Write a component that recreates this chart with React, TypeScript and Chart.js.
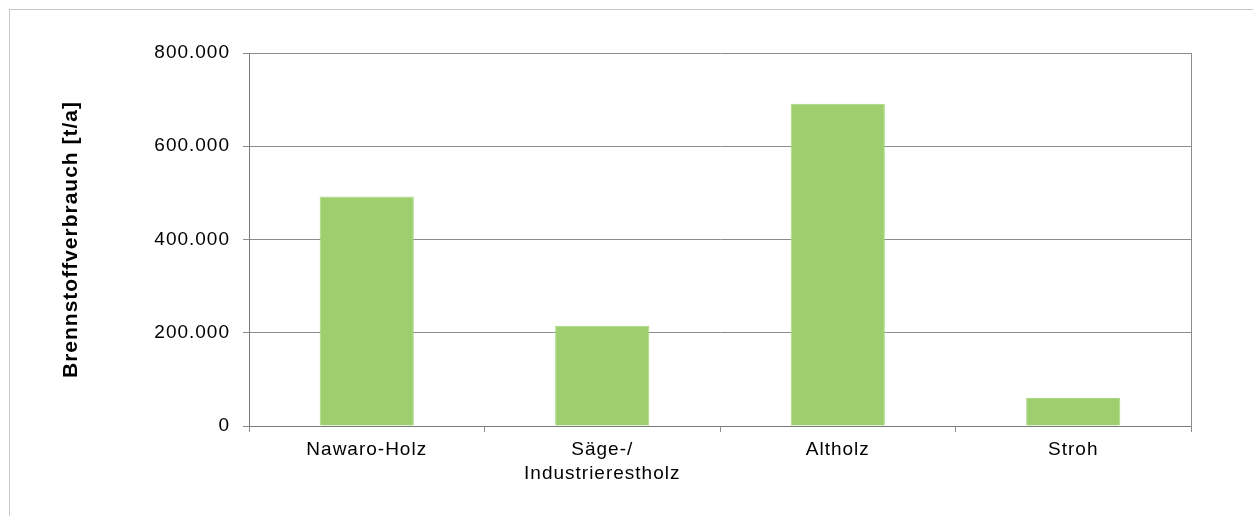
import React, { useEffect, useRef } from "react";
import { Chart, registerables } from "chart.js";

Chart.register(...registerables);

const categories: (string | string[])[] = [
  "Nawaro-Holz",
  ["Säge-/", "Industrierestholz"],
  "Altholz",
  "Stroh",
];
const fuelUse: number[] = [492000, 215000, 691000, 60000];
const yTicks: number[] = [0, 200000, 400000, 600000, 800000];
const yTitle = "Brennstoffverbrauch [t/a]";

const fmt = (v: number) =>
  Math.round(v)
    .toString()
    .replace(/\B(?=(\d{3})+(?!\d))/g, ".");

const CANVAS_W = 1243;
const CANVAS_H = 506;
const AREA_LEFT = 239;
const AREA_TOP = 43;
const AREA_RIGHT = 1181;
const AREA_BOTTOM = 416;

const spacingPlugin = {
  id: "spacing",
  beforeUpdate(chart: any) {
    chart.ctx.letterSpacing = "1px";
  },
  beforeDraw(chart: any) {
    chart.ctx.letterSpacing = "1px";
  },
};

export default function App() {
  const ref = useRef<HTMLCanvasElement | null>(null);
  useEffect(() => {
    if (!ref.current) return;
    const gridColor = "#8c8c8c";
    const font = { family: "'Liberation Sans', Arial, sans-serif", size: 19 };
    const chart = new Chart(ref.current, {
      type: "bar",
      data: {
        labels: categories as any,
        datasets: [
          {
            data: fuelUse,
            backgroundColor: "#9dcf6e",
            borderColor: "#a9d87e",
            borderWidth: 1,
            categoryPercentage: 1,
            barPercentage: 0.4,
          },
        ],
      },
      plugins: [spacingPlugin],
      options: {
        responsive: false,
        animation: false,
        events: [],
        layout: {
          padding: { top: AREA_TOP, right: CANVAS_W - AREA_RIGHT, left: 0, bottom: 0 },
        },
        plugins: {
          legend: { display: false },
          tooltip: { enabled: false },
        },
        scales: {
          x: {
            grid: {
              display: true,
              drawOnChartArea: false,
              drawTicks: true,
              tickLength: 6,
              color: gridColor,
              offset: true,
            },
            border: { display: true, color: "#7a7a7a", width: 1 },
            ticks: {
              color: "#000",
              font: { ...font, lineHeight: 1.25 },
              padding: 6,
              maxRotation: 0,
              autoSkip: false,
            },
            afterFit: (scale: any) => {
              scale.height = CANVAS_H - AREA_BOTTOM;
            },
          },
          y: {
            min: 0,
            max: 800000,
            afterBuildTicks: (scale: any) => {
              scale.ticks = yTicks.map((v) => ({ value: v }));
            },
            grid: {
              color: gridColor,
              tickLength: 6,
              drawTicks: true,
            },
            border: { display: true, color: "#7a7a7a", width: 1 },
            ticks: {
              color: "#000",
              font,
              padding: 13,
              callback: (v: any) => fmt(Number(v)),
            },
            title: {
              display: true,
              text: yTitle,
              color: "#000",
              font: { family: font.family, size: 21, weight: "bold" },
              padding: { top: 49, bottom: 0 },
            },
            afterFit: (scale: any) => {
              scale.width = AREA_LEFT;
            },
          },
          yRight: {
            position: "right",
            min: 0,
            max: 800000,
            grid: { display: false, drawOnChartArea: false, drawTicks: false },
            border: { display: true, color: gridColor, width: 1 },
            ticks: { display: false },
            afterFit: (scale: any) => {
              scale.width = 0;
            },
          },
        },
      } as any,
    });
    return () => chart.destroy();
  }, []);

  return (
    <div
      style={{
        position: "absolute",
        left: 9,
        top: 9,
        width: CANVAS_W + 1,
        height: CANVAS_H + 1,
        borderTop: "1px solid #c6c6c6",
        borderLeft: "1px solid #c6c6c6",
        boxSizing: "border-box",
        background: "#fff",
        overflow: "hidden",
      }}
    >
      <canvas
        ref={ref}
        width={CANVAS_W}
        height={CANVAS_H}
        style={{ display: "block", width: CANVAS_W, height: CANVAS_H }}
      />
    </div>
  );
}
